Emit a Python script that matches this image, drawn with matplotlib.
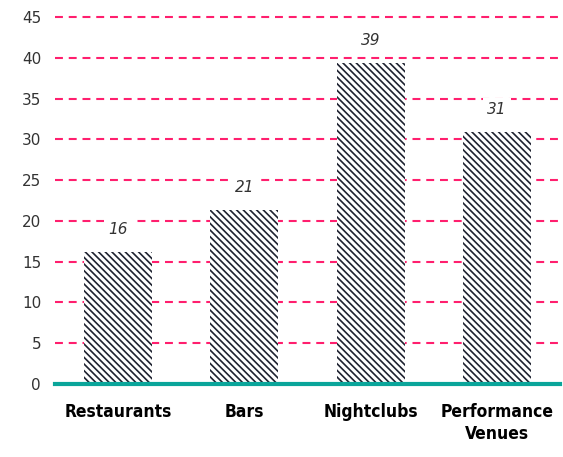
import matplotlib
matplotlib.use("Agg")
import matplotlib.pyplot as plt
import numpy as np

categories = ["Restaurants", "Bars", "Nightclubs", "Performance\nVenues"]
values = [16.2, 21.3, 39.3, 30.9]
labels = ["16", "21", "39", "31"]
yticks = [0, 5, 10, 15, 20, 25, 30, 35, 40, 45]

plt.rcParams['hatch.linewidth'] = 1.2

fig = plt.figure(figsize=(5.63, 4.57), dpi=100)
ax = fig.add_axes([55 / 563, 73 / 457, 505 / 563, 367 / 457])

x = np.arange(len(categories))
# striped bars
ax.bar(x, values, width=0.54, color='white', edgecolor='#1e2230',
       linewidth=0, hatch='\\' * 5, zorder=3)

# value labels with white box so the grid line breaks behind them
for xi, v, lab in zip(x, values, labels):
    ax.text(xi, v + 2.8, lab, ha='center', va='center', fontsize=11,
            style='italic', color='#333333', zorder=4,
            bbox=dict(facecolor='white', edgecolor='none', pad=3))

ax.set_xlim(-0.5, 3.5)
ax.set_ylim(0, 45)
ax.set_yticks(yticks)
ax.set_yticklabels([str(t) for t in yticks], fontsize=11, color='#333333')
ax.set_xticks(x)
ax.set_xticklabels(categories, fontsize=12.5, fontweight='bold',
                   family='DejaVu Sans', fontstretch='condensed',
                   color='black', linespacing=1.25, va='top')
ax.tick_params(axis='both', length=0)
ax.tick_params(axis='y', pad=10)
ax.tick_params(axis='x', pad=14)

for s in ['top', 'right', 'left']:
    ax.spines[s].set_visible(False)
ax.spines['bottom'].set_color('#0aa59a')
ax.spines['bottom'].set_linewidth(3)
ax.spines['bottom'].set_zorder(5)

ax.yaxis.grid(True, color='#ff1f6e', linestyle=(0, (3.8, 2.8)),
              linewidth=1.5, zorder=1)
ax.set_axisbelow(True)
for gl in ax.yaxis.get_gridlines():
    gl.set_clip_on(False)

fig.savefig("out.png", dpi=100)
